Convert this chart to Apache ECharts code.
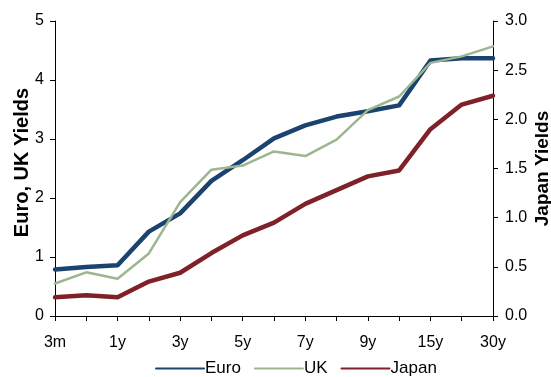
<!DOCTYPE html>
<html>
<head>
<meta charset="utf-8">
<script src="https://cdn.jsdelivr.net/npm/echarts@6/dist/echarts.min.js"></script>
<style>html,body{margin:0;padding:0;background:#fff}#c{width:551px;height:377px}</style>
</head>
<body>
<div id="c"></div>
<script>
const categories = ['3m','6m','1y','2y','3y','4y','5y','6y','7y','8y','9y','10y','15y','20y','30y'];
const euro  = [0.79,0.83,0.86,1.43,1.74,2.29,2.64,3.01,3.23,3.38,3.47,3.57,4.33,4.37,4.37];
const uk    = [0.55,0.74,0.63,1.06,1.93,2.48,2.55,2.79,2.71,2.99,3.49,3.72,4.29,4.40,4.57];
const japan = [0.19,0.21,0.19,0.35,0.44,0.64,0.82,0.95,1.14,1.28,1.42,1.48,1.90,2.15,2.24];
const leftTicks = [0,1,2,3,4,5];
const rightTicks = [0,0.5,1,1.5,2,2.5,3];

const chart = echarts.init(document.getElementById('c'));
const font = 'Liberation Sans, Arial, sans-serif';
chart.setOption({
  animation: false,
  grid: {left: 55, right: 58, top: 21, bottom: 61, outerBoundsMode: 'none', containLabel: false},
  legend: {
    bottom: -5, left: 150,
    itemWidth: 48, itemHeight: 6, itemGap: 13,
    itemStyle: {opacity: 0},
    textStyle: {fontFamily: font, fontSize: 17, color: '#000', padding: [0,0,0,-4]},
    data: ['Euro','UK','Japan']
  },
  xAxis: {
    type: 'category', data: categories, boundaryGap: false,
    axisLine: {show: true, onZero: false, lineStyle: {color: '#000', width: 1}},
    axisTick: {show: true, interval: 0, length: 5, lineStyle: {color: '#000', width: 1}},
    axisLabel: {interval: 1, color: '#000', fontFamily: font, fontSize: 16, margin: 19}
  },
  yAxis: [{
    type: 'value', min: leftTicks[0], max: leftTicks[leftTicks.length-1], interval: 1,
    position: 'left',
    name: 'Euro, UK Yields', nameLocation: 'middle', nameGap: 23, nameRotate: 90,
    nameMoveOverlap: false,
    nameTextStyle: {fontFamily: font, fontSize: 20, fontWeight: 'bold', color: '#000', padding: [0,0,0,12]},
    axisLine: {show: true, onZero: false, lineStyle: {color: '#000', width: 1}},
    axisTick: {show: true, length: 5, lineStyle: {color: '#000', width: 1}},
    splitLine: {show: false},
    axisLabel: {color: '#000', fontFamily: font, fontSize: 16, margin: 11}
  }, {
    type: 'value', min: rightTicks[0], max: rightTicks[rightTicks.length-1], interval: 0.5,
    position: 'right',
    name: 'Japan Yields', nameLocation: 'middle', nameGap: 40, nameRotate: 90,
    nameMoveOverlap: false,
    nameTextStyle: {fontFamily: font, fontSize: 19, fontWeight: 'bold', color: '#000'},
    axisLine: {show: true, onZero: false, lineStyle: {color: '#000', width: 1}},
    axisTick: {show: true, length: 5, lineStyle: {color: '#000', width: 1}},
    splitLine: {show: false},
    axisLabel: {color: '#000', fontFamily: font, fontSize: 16, margin: 12,
      formatter: v => v.toFixed(1)}
  }],
  series: [
    {name: 'Euro', type: 'line', data: euro, yAxisIndex: 0, symbol: 'none',
     lineStyle: {color: '#1B436F', width: 4.5, cap: 'round', join: 'round'}, itemStyle: {color: '#1B436F'}},
    {name: 'UK', type: 'line', data: uk, yAxisIndex: 0, symbol: 'none',
     lineStyle: {color: '#9BB690', width: 2.5, cap: 'round', join: 'round'}, itemStyle: {color: '#9BB690'}},
    {name: 'Japan', type: 'line', data: japan, yAxisIndex: 1, symbol: 'none',
     lineStyle: {color: '#7E2129', width: 4.5, cap: 'round', join: 'round'}, itemStyle: {color: '#7E2129'}}
  ]
});
</script>
</body>
</html>
